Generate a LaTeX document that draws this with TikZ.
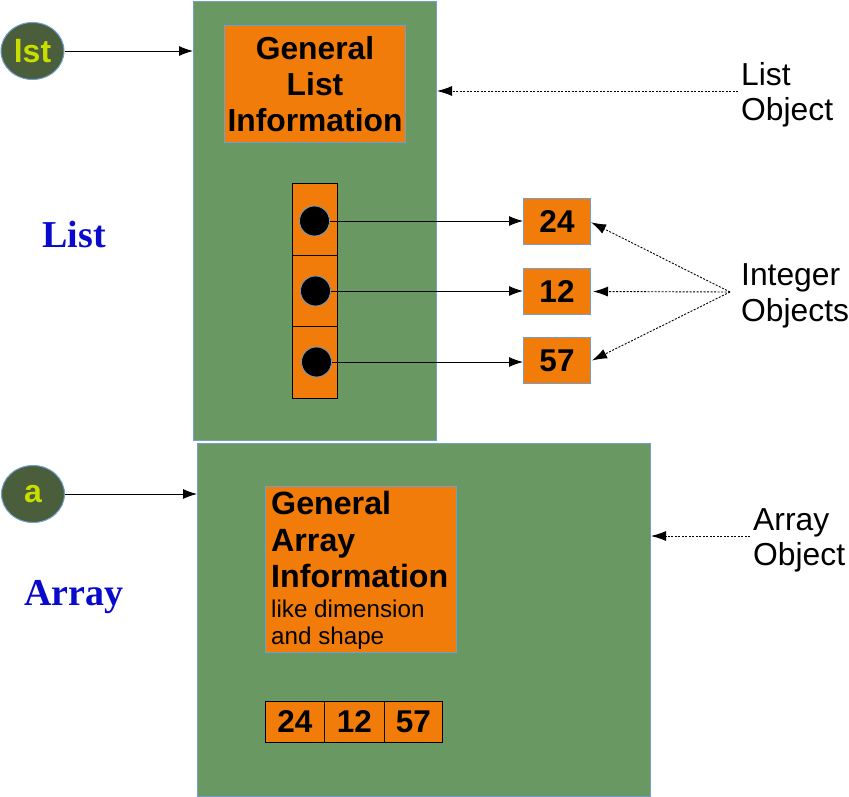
\documentclass[tikz,border=0pt]{standalone}
\usepackage{fontspec}
\setmainfont{Liberation Sans}
\newfontfamily\serifb{Liberation Serif}
\usetikzlibrary{arrows.meta,shapes.geometric}
\definecolor{grn}{RGB}{106,152,98}
\definecolor{org}{RGB}{242,124,10}
\definecolor{bord}{RGB}{114,159,207}
\definecolor{dkg}{RGB}{74,94,60}
\definecolor{ylw}{RGB}{200,222,0}
\definecolor{lblue}{RGB}{10,10,205}
\begin{document}
\begin{tikzpicture}[x=1pt,y=-1pt,
  container/.style={draw=bord,fill=grn,line width=1pt,anchor=north west,inner sep=0},
  infobox/.style={draw=bord,fill=org,line width=1pt,anchor=north west,inner sep=0},
  cellbox/.style={draw=black,fill=org,line width=0.8pt,anchor=north west,inner sep=0,
    font=\bfseries\fontsize{31.5}{36}\selectfont},
  intbox/.style={draw=bord,fill=org,line width=1pt,anchor=north west,inner sep=0,
    font=\bfseries\fontsize{31.5}{36}\selectfont},
  varnode/.style={ellipse,draw=bord,fill=dkg,line width=1pt,inner sep=0,
    minimum width=63pt,minimum height=57pt,text=ylw,font=\bfseries\fontsize{32}{36}\selectfont},
  ptrdot/.style={circle,fill=black,draw=bord,line width=0.8pt,minimum size=30pt,inner sep=0},
  lbl/.style={anchor=north west,inner sep=0,align=left,font=\fontsize{31.8}{35}\selectfont},
  blueword/.style={anchor=base,inner sep=0,text=lblue,font=\serifb\bfseries\fontsize{38}{44}\selectfont},
  arr/.style={-{Latex[length=14pt,width=10pt]},line width=0.9pt},
  dotarr/.style={-{Latex[length=15pt,width=10pt]},line width=0.9pt,dash pattern=on 2pt off 1.5pt}
]
\useasboundingbox (0,0) rectangle (849,797);

% containers
\node[container,minimum width=243pt,minimum height=439pt] (listobj) at (193,1) {};
\node[container,minimum width=453pt,minimum height=353pt] (arrobj) at (197,443) {};

% list info
\node[infobox,minimum width=181pt,minimum height=117pt,align=center,
  font=\bfseries\fontsize{31.8}{36}\selectfont] (linfo) at (224,25) {General\\List\\Information};

% pointer cells
\node[cellbox,minimum width=45pt,minimum height=71.7pt] (p1) at (292,183) {};
\node[cellbox,minimum width=45pt,minimum height=71.7pt] (p2) at (292,254.7) {};
\node[cellbox,minimum width=45pt,minimum height=71.7pt] (p3) at (292,326.4) {};
\node[ptrdot] (c1) at (314.5,221) {};
\node[ptrdot] (c2) at (315.5,291) {};
\node[ptrdot] (c3) at (316.5,362) {};

% integer objects
\node[intbox,minimum width=67pt,minimum height=45.5pt] (n24) at (523,198) {24};
\node[intbox,minimum width=67pt,minimum height=46pt] (n12) at (523,268) {12};
\node[intbox,minimum width=67pt,minimum height=46pt] (n57) at (523,337) {57};

\draw[arr] (c1.east) -- (c1.east -| n24.west);
\draw[arr] (c2.east) -- (c2.east -| n12.west);
\draw[arr] (c3.east) -- (c3.east -| n57.west);

% variables
\node[varnode] (lst) at (32.5,51) {lst};
\node[varnode] (a) at (33,494) {a};
\draw[arr] (lst.east) -- (lst.east -| listobj.west);
\draw[arr] (a.east) -- (a.east -| arrobj.west);

% blue words
\node[blueword] (listword) at (74,247) {List};
\node[blueword] (arrword) at (74,605) {Array};

% labels
\node[lbl] (listlbl) at (741,62) {List\\Object};
\node[lbl,font=\fontsize{31.8}{36}\selectfont] (intlbl) at (741,263) {Integer\\Objects};
\node[lbl] (arrlbl) at (753,508) {Array\\Object};

\coordinate (lsrc) at (738,91);
\coordinate (isrc) at (730,292);
\coordinate (asrc) at (750,536);
\draw[dotarr] (lsrc) -- (lsrc -| listobj.east);
\draw[dotarr] (isrc) -- ([yshift=-1pt]n24.east);
\draw[dotarr] (isrc) -- ([xshift=2pt]n12.east);
\draw[dotarr] (isrc) -- ([xshift=1pt]n57.east);
\draw[dotarr] (asrc) -- (asrc -| arrobj.east);

% array info
\node[infobox,minimum width=191pt,minimum height=166pt] (ainfo) at (265,486) {};
\node[anchor=north west,inner sep=0,align=left,
  font=\bfseries\fontsize{32.2}{36.5}\selectfont] (ainfotitle) at (271,491) {General\\Array\\Information};
\node[anchor=north west,inner sep=0,align=left,
  font=\fontsize{24.2}{27}\selectfont] (ainfosub) at (271,600) {like dimension\\and shape};

% array cells
\node[cellbox,minimum width=59pt,minimum height=41pt] (a1) at (265,701) {24};
\node[cellbox,minimum width=60pt,minimum height=41pt] (a2) at (324,701) {12};
\node[cellbox,minimum width=58pt,minimum height=41pt] (a3) at (384,701) {57};
\end{tikzpicture}
\end{document}
